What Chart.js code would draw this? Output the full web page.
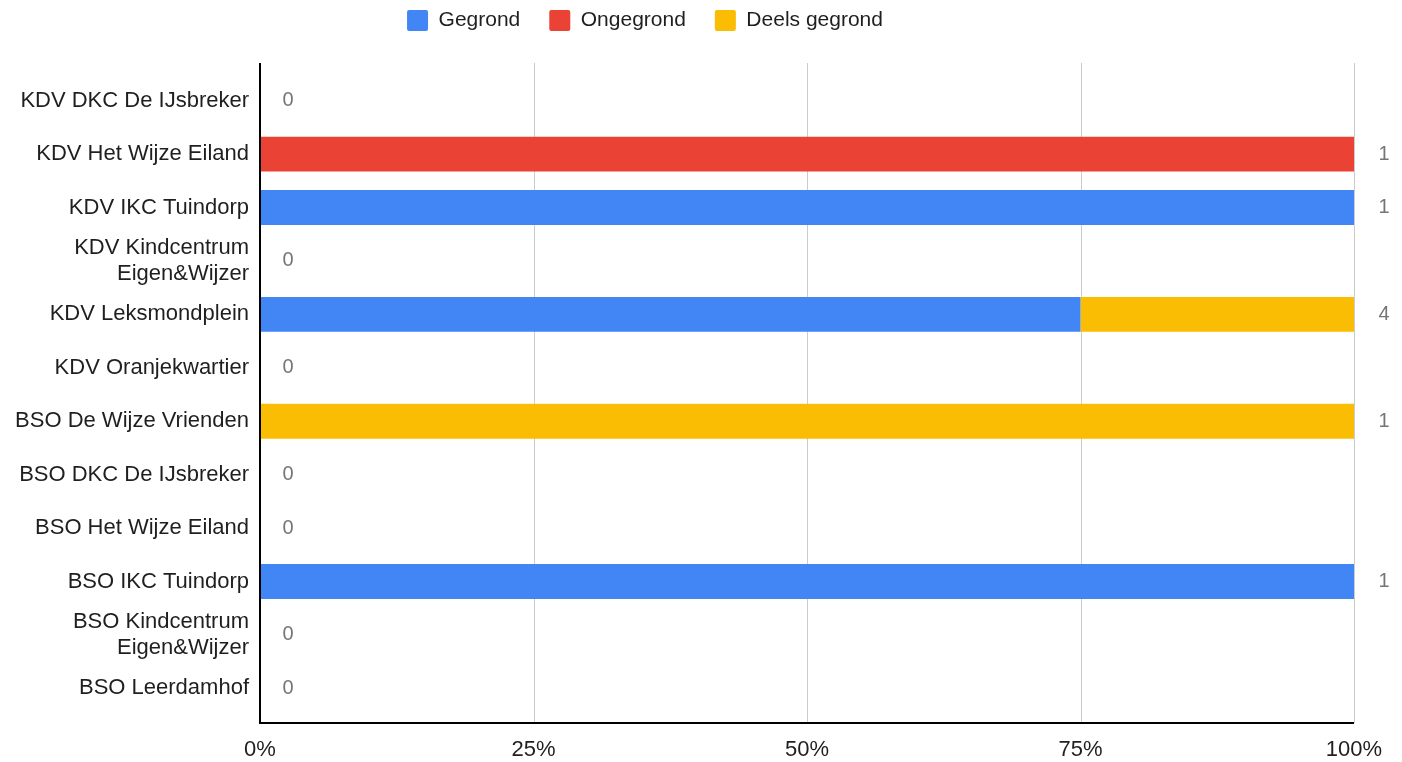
<!DOCTYPE html>
<html>
<head>
<meta charset="utf-8">
<script src="https://cdn.jsdelivr.net/npm/chart.js@4.4.1/dist/chart.umd.min.js"></script>
<style>
  html, body { margin: 0; padding: 0; background: #fff; }
  #wrap { width: 1402px; height: 762px; }
</style>
</head>
<body>
<div id="wrap"><canvas id="chart"></canvas></div>
<script>
// Locaties (y-as)
const locaties = [
    'KDV DKC De IJsbreker',
    'KDV Het Wijze Eiland',
    'KDV IKC Tuindorp',
    ['KDV Kindcentrum', 'Eigen&Wijzer'],
    'KDV Leksmondplein',
    'KDV Oranjekwartier',
    'BSO De Wijze Vrienden',
    'BSO DKC De IJsbreker',
    'BSO Het Wijze Eiland',
    'BSO IKC Tuindorp',
    ['BSO Kindcentrum', 'Eigen&Wijzer'],
    'BSO Leerdamhof'
];

// Aantallen klachten per oordeel
const gegrond      = [0, 0, 1, 0, 3, 0, 0, 0, 0, 1, 0, 0];
const ongegrond    = [0, 1, 0, 0, 0, 0, 0, 0, 0, 0, 0, 0];
const deelsGegrond = [0, 0, 0, 0, 1, 0, 1, 0, 0, 0, 0, 0];

const xTicks = [0, 25, 50, 75, 100];

const totals = locaties.map((_, i) => gegrond[i] + ongegrond[i] + deelsGegrond[i]);
const pct = arr => arr.map((v, i) => totals[i] ? v / totals[i] * 100 : 0);

const FONT = 'Arial, "Liberation Sans", sans-serif';
const TEXT = '#1f1f1f';

// legenda-hoogte vastzetten zodat het plotvlak op de juiste hoogte begint
const legendFitPlugin = {
    id: 'legendFit',
    beforeLayout(chart) {
        const legend = chart.legend;
        if (legend && !legend._patched) {
            const fit = legend.fit;
            legend.fit = function() {
                fit.call(this);
                this.height = 93;
            };
            legend._patched = true;
        }
    }
};

// Assen en rasterlijnen die iets buiten het chartArea doorlopen (zoals in het origineel)
const framePlugin = {
    id: 'frame',
    beforeDatasetsDraw(chart) {
        const { ctx, chartArea, scales } = chart;
        const top = chartArea.top - 11;
        const bottom = chartArea.bottom + 8;
        ctx.save();
        ctx.strokeStyle = '#cccccc';
        ctx.lineWidth = 1;
        xTicks.forEach(t => {
            if (t === 0) return;
            const x = Math.round(scales.x.getPixelForValue(t)) + 0.5;
            ctx.beginPath();
            ctx.moveTo(x, top);
            ctx.lineTo(x, bottom);
            ctx.stroke();
        });
        ctx.restore();
    },
    afterDatasetsDraw(chart) {
        const { ctx, chartArea, scales } = chart;
        const top = chartArea.top - 11;
        const bottom = chartArea.bottom + 8;
        const x0 = Math.round(scales.x.getPixelForValue(0));
        const x1 = scales.x.getPixelForValue(100);
        ctx.save();
        ctx.strokeStyle = '#000000';
        ctx.lineWidth = 2;
        ctx.beginPath();
        ctx.moveTo(x0, top);
        ctx.lineTo(x0, bottom);
        ctx.lineTo(x1, bottom);
        ctx.stroke();

        // totalen naast de balken
        ctx.fillStyle = '#757575';
        ctx.font = '20px ' + FONT;
        ctx.textBaseline = 'middle';
        ctx.textAlign = 'center';
        totals.forEach((t, i) => {
            const y = scales.y.getPixelForValue(i);
            const x = t ? x1 + 30 : x0 + 28;
            ctx.fillText(String(t), x, y);
        });
        ctx.restore();
    }
};

new Chart(document.getElementById('chart'), {
    type: 'bar',
    data: {
        labels: locaties,
        datasets: [
            { label: 'Gegrond', data: pct(gegrond), backgroundColor: '#4285F4' },
            { label: 'Ongegrond', data: pct(ongegrond), backgroundColor: '#EA4335' },
            { label: 'Deels gegrond', data: pct(deelsGegrond), backgroundColor: '#FBBC04' }
        ]
    },
    options: {
        indexAxis: 'y',
        responsive: true,
        maintainAspectRatio: false,
        animation: false,
        datasets: {
            bar: { categoryPercentage: 1, barPercentage: 0.655, borderWidth: 0 }
        },
        layout: { padding: { top: -19, right: 48, bottom: 0, left: -64 } },
        plugins: {
            legend: {
                position: 'top',
                labels: {
                    color: TEXT,
                    font: { family: FONT, size: 21 },
                    boxWidth: 21,
                    boxHeight: 21,
                    padding: 29,
                    useBorderRadius: true,
                    borderRadius: 2
                }
            },
            tooltip: { enabled: false }
        },
        scales: {
            x: {
                stacked: true,
                min: 0,
                max: 100,
                afterBuildTicks: axis => { axis.ticks = xTicks.map(v => ({ value: v })); },
                afterFit: axis => { axis.height = 47; },
                border: { display: false },
                grid: { display: false },
                ticks: {
                    color: TEXT,
                    font: { family: FONT, size: 22 },
                    padding: 14,
                    maxRotation: 0,
                    callback: v => v + '%'
                }
            },
            y: {
                stacked: true,
                border: { display: false },
                grid: { display: false },
                afterFit: axis => { axis.width = 324; },
                ticks: {
                    color: TEXT,
                    font: { family: FONT, size: 22, lineHeight: 1.15 },
                    padding: 3,
                    autoSkip: false
                }
            }
        }
    },
    plugins: [legendFitPlugin, framePlugin]
});
</script>
</body>
</html>
